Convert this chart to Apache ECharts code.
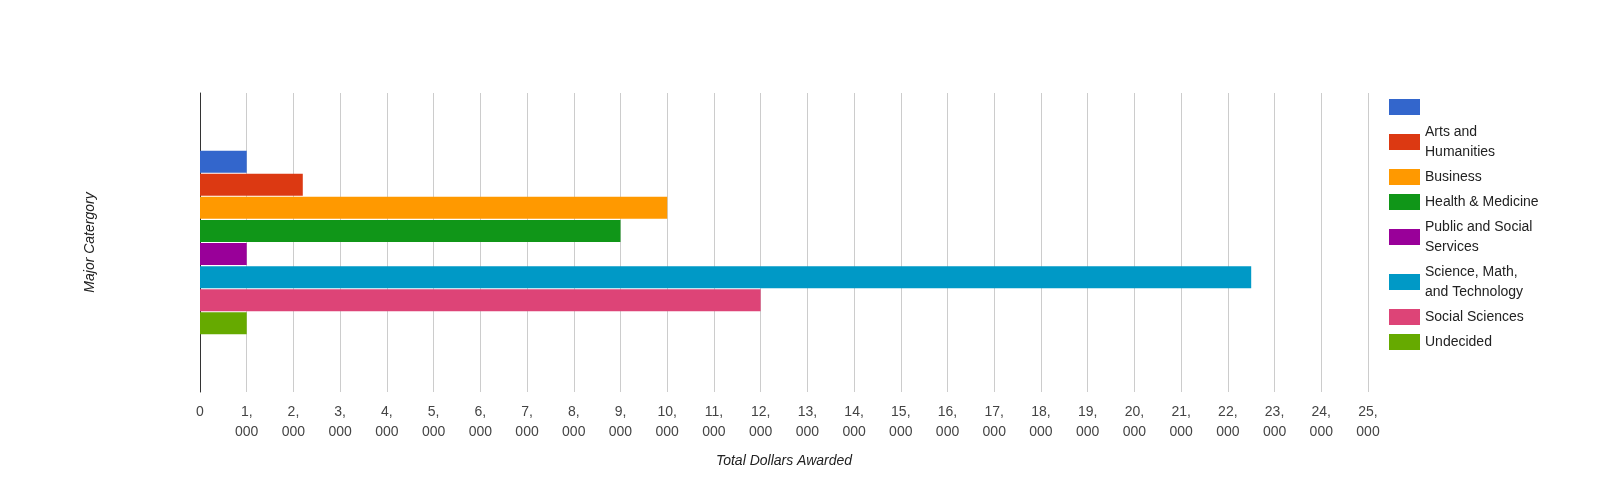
<!DOCTYPE html>
<html><head><meta charset="utf-8">
<script src="https://cdn.jsdelivr.net/npm/echarts@6/dist/echarts.min.js"></script>
<style>html,body{margin:0;padding:0;background:#fff}#c{width:1620px;height:500px}</style>
</head><body><div id="c"></div>
<script>
const categories = [''];
const seriesNames = ['\u00a0', 'Arts and\nHumanities', 'Business', 'Health & Medicine', 'Public and Social\nServices', 'Science, Math,\nand Technology', 'Social Sciences', 'Undecided'];
const seriesValues = [1000, 2200, 10000, 9000, 1000, 22500, 12000, 1000];
const colors = ['#3366cc', '#dc3912', '#ff9900', '#109618', '#990099', '#0099c6', '#dd4477', '#66aa00'];
const font = 'Liberation Sans, Arial, sans-serif';
const chart = echarts.init(document.getElementById('c'));
chart.setOption({
  animation: false,
  color: colors,
  textStyle: {fontFamily: font},
  grid: {left: 200, right: 252, top: 93, bottom: 108},
  legend: {
    orient: 'vertical', left: 1384, top: 92, itemWidth: 31, itemHeight: 16, itemGap: 5,
    icon: 'rect', textStyle: {fontSize: 14, color: '#222', fontFamily: font, lineHeight: 20},
    data: seriesNames
  },
  xAxis: {
    type: 'value', min: 0, max: 25000, interval: 1000,
    name: 'Total Dollars Awarded', nameLocation: 'middle', nameGap: 62,
    nameTextStyle: {fontStyle: 'italic', fontSize: 14, color: '#222'},
    axisLine: {show: false}, axisTick: {show: false},
    splitLine: {lineStyle: {color: '#cccccc'}},
    axisLabel: {fontSize: 14, color: '#444', lineHeight: 20, margin: 10,
      formatter: v => v === 0 ? '0' : (v / 1000) + ',\n000'}
  },
  yAxis: {
    type: 'category', data: categories,
    name: 'Major Catergory', nameLocation: 'middle', nameGap: 103,
    nameTextStyle: {fontStyle: 'italic', fontSize: 14, color: '#222'},
    axisLine: {lineStyle: {color: '#333'}}, axisTick: {show: false}, axisLabel: {show: false}
  },
  series: seriesNames.map((n, i) => ({
    name: n, type: 'bar', barWidth: 22, barGap: '5%',
    data: [seriesValues[i]]
  }))
});
</script></body></html>
